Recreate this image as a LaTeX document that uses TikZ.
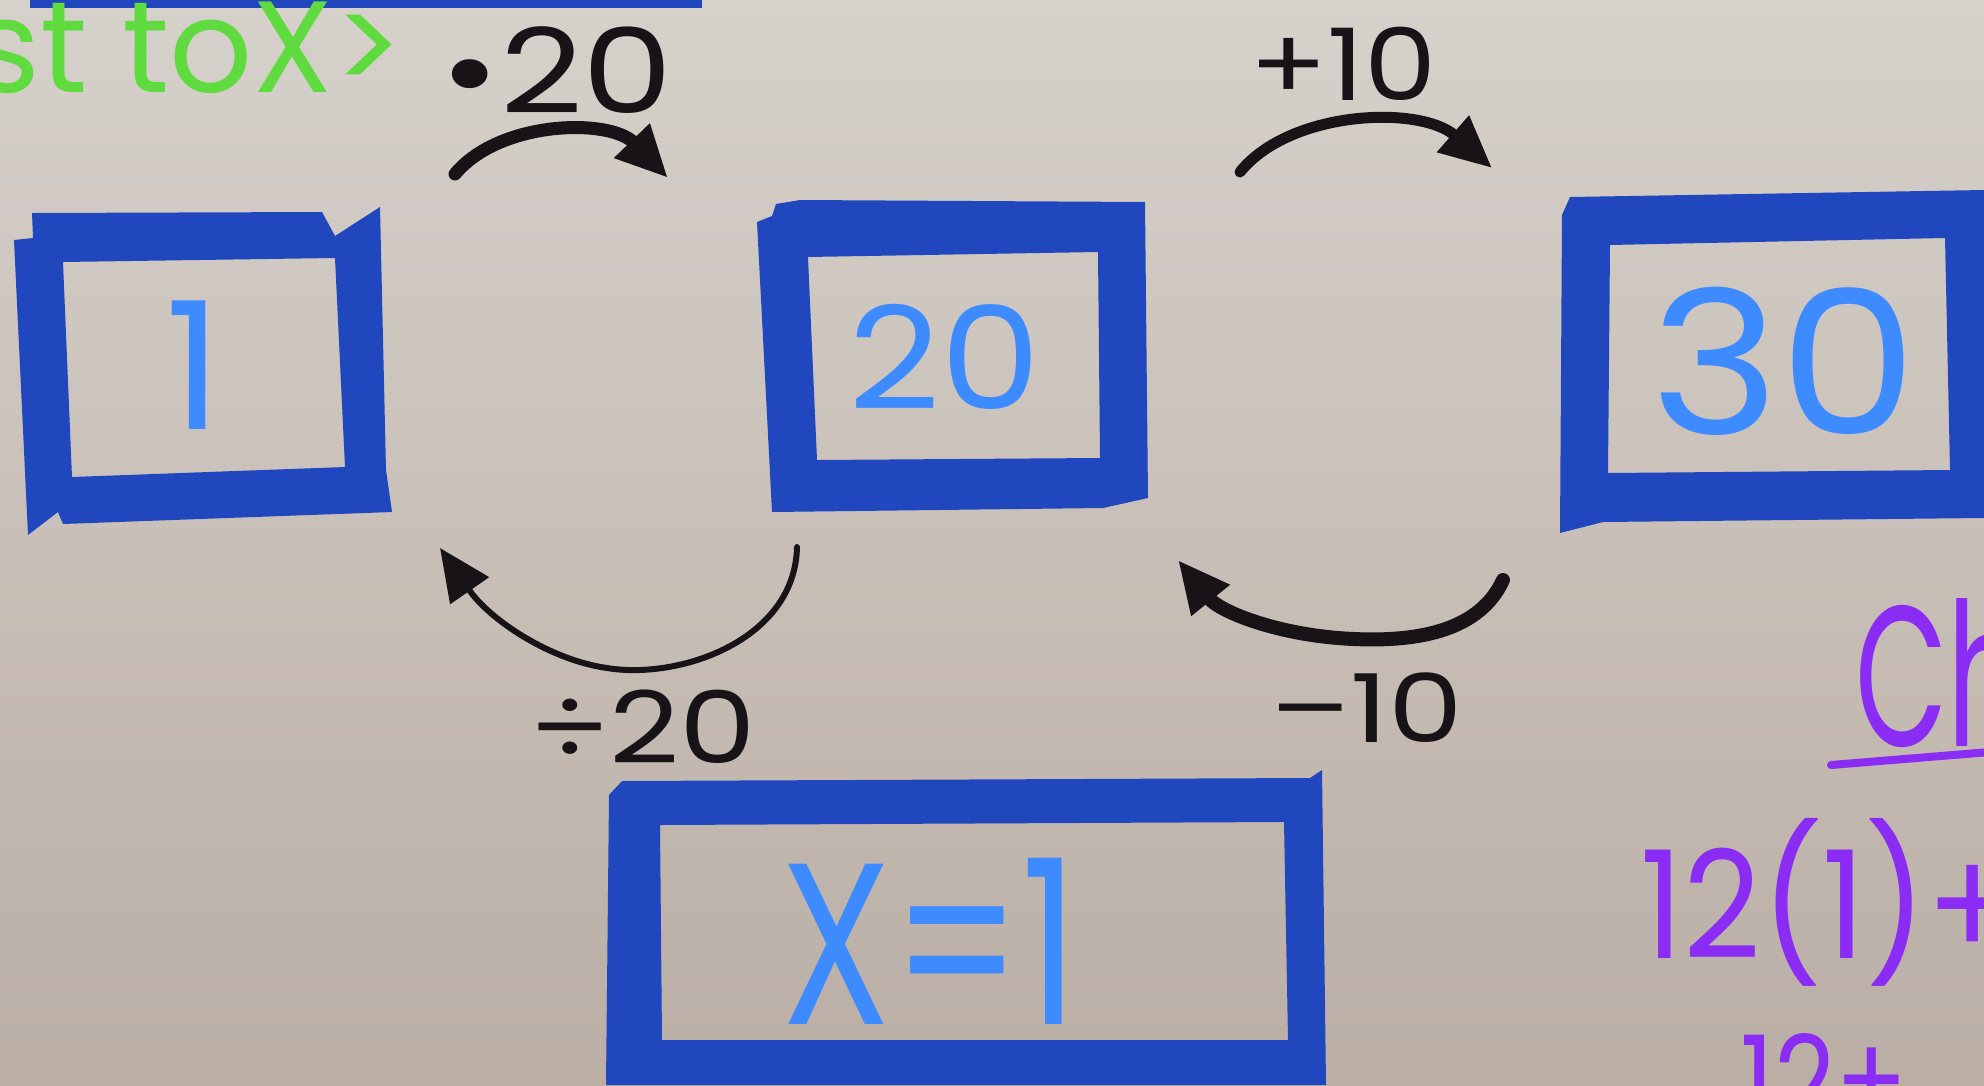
\documentclass[tikz,border=0pt]{standalone}
\usepackage{fontspec}
\setmainfont{Poppins}
\usetikzlibrary{arrows.meta}
\definecolor{boardtop}{HTML}{D6D1CB}
\definecolor{boardbot}{HTML}{BAAEA5}
\definecolor{tape}{HTML}{2047BD}
\definecolor{inkblue}{HTML}{3D8BFF}
\definecolor{inkblack}{HTML}{171316}
\definecolor{inkgreen}{HTML}{5FDB3F}
\definecolor{inkpurple}{HTML}{8B2CF5}
\tikzset{
  tapestrip/.style={fill=tape, even odd rule},
  boxtext/.style={text=inkblue, inner sep=0pt},
  oplabel/.style={text=inkblack, inner sep=0pt},
  marker/.style={draw=inkblack, line cap=round, -{Triangle[length=52pt,width=46pt]}},
  greenink/.style={text=inkgreen, inner sep=0pt},
  purpleink/.style={text=inkpurple, inner sep=0pt},
}
\newcommand{\fs}[1]{\fontsize{#1}{#1}\selectfont}
\begin{document}
\begin{tikzpicture}[x=1pt,y=-1pt]
\useasboundingbox (0,0) rectangle (1984,1085);
\clip (0,0) rectangle (1984,1085);
\shade[top color=boardtop,bottom color=boardbot] (0,0) rectangle (1984,1085);

% top strip of tape
\fill[tape] (30,0) rectangle (702,8);

% box "1"
\fill[tapestrip]
  (14,240) -- (33,238) -- (32,213) -- (322,212) -- (335,236) -- (380,207) -- (386,470) -- (392,512) -- (63,524) -- (58,512) -- (28,535) -- cycle
  (63,262) -- (335,258) -- (345,467) -- (72,477) -- cycle;
% box "20"
\fill[tapestrip]
  (757,222) -- (772,216) -- (776,204) -- (800,200) -- (1145,202) -- (1148,498) -- (1103,508) -- (772,512) -- cycle
  (808,257) -- (1098,252) -- (1100,458) -- (817,460) -- cycle;
% box "30"
\fill[tapestrip]
  (1562,215) -- (1570,197) -- (1984,190) -- (1984,518) -- (1603,522) -- (1560,533) -- cycle
  (1610,245) -- (1945,238) -- (1950,470) -- (1608,473) -- cycle;
% box "X=1"
\fill[tapestrip]
  (609,795) -- (622,781) -- (1310,778) -- (1322,770) -- (1326,1085) -- (606,1085) -- cycle
  (660,825) -- (1284,822) -- (1288,1040) -- (662,1040) -- cycle;

% box texts
\node[boxtext, font=\fs{178}] (one) at (194,365) {1};
\node[boxtext, font=\fs{143}, xscale=1.12] (twenty) at (945,357) {20};
\node[boxtext, font=\fs{200}, xscale=1.1] (thirty) at (1784,361) {30};
\node[boxtext, font=\fs{230}, xscale=0.78] (xeq) at (930,941) {X=1};

% operation labels
\node[oplabel, font=\fs{118}, xscale=1.22] (lmul) at (557,70) {•20};
\node[oplabel, font=\fs{100}, xscale=1.15] (ladd) at (1343,64) {+10};
\node[oplabel, font=\fs{100}, xscale=1.22] (ldiv) at (643,727) {÷20};
\node[oplabel, font=\fs{95}, xscale=1.25] (lsub) at (1367,708) {–10};

% arrows
\coordinate (amS) at (455,174);
\coordinate (amE) at (668,178);
\draw[marker, line width=13pt] (amS) .. controls (500,120) and (610,118) .. (amE);

\coordinate (aaS) at (1240,172);
\coordinate (aaE) at (1492,168);
\draw[marker, line width=11pt] (aaS) .. controls (1290,110) and (1420,105) .. (aaE);

\coordinate (adS) at (797,547);
\coordinate (adM) at (607,668);
\coordinate (adE) at (440,548);
\draw[marker, line width=6pt] (adS) .. controls (795,640) and (680,680) .. (adM)
  .. controls (550,660) and (490,620) .. (adE);

\coordinate (asS) at (1503,580);
\coordinate (asM) at (1354,639);
\coordinate (asE) at (1178,560);
\draw[marker, line width=14pt] (asS) .. controls (1480,630) and (1420,642) .. (asM)
  .. controls (1280,636) and (1220,612) .. (asE);

% green note, top left
\node[greenink, font=\fs{130}, anchor=base west] (green) at (-28,92) {st toX>};

% purple work, right side
\node[purpleink, font=\fs{200}, xscale=0.6, anchor=base west] (check) at (1855,746) {Ch};
\coordinate (ulS) at (1831,765);
\coordinate (ulE) at (1990,752);
\draw[inkpurple, line width=8pt, line cap=round] (ulS) -- (ulE);
\node[purpleink, font=\fs{150}, xscale=0.9, anchor=base west] (sub1) at (1640,958) {12(1)+};
\node[purpleink, font=\fs{125}, xscale=0.85, anchor=base west] (sub2) at (1740,1125) {12+};
\end{tikzpicture}
\end{document}
